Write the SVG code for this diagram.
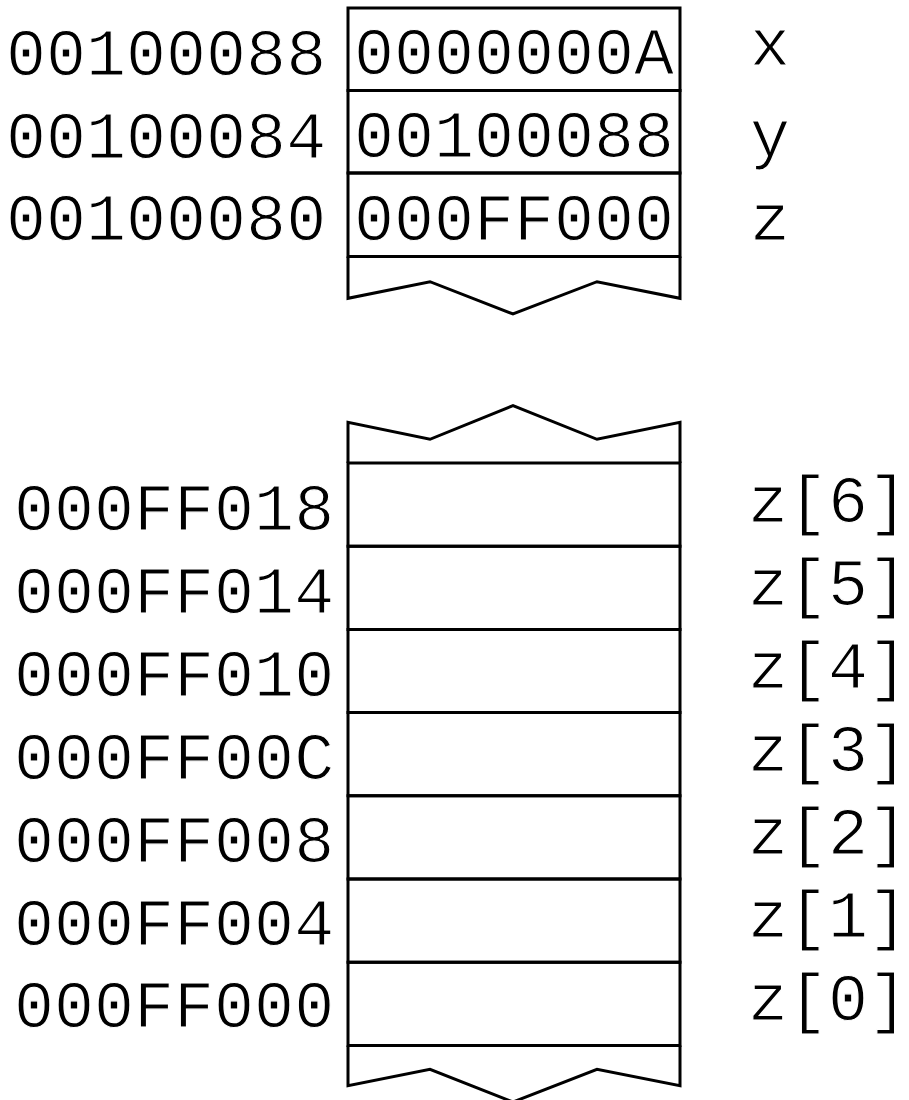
<svg xmlns="http://www.w3.org/2000/svg" width="909" height="1100" viewBox="0 0 909 1100">
<style>
.ln{fill:none;stroke:#000;stroke-width:3;stroke-linejoin:miter}
.t{font-family:"Liberation Mono","Courier New",monospace;font-size:66.7px;fill:#000;stroke:#fff;stroke-width:1.2px}
.m{text-anchor:middle}
</style>
<rect width="909" height="1100" fill="#fff"/>
<g id="top-stack">
<g id="cell-x">
<path class="ln" d="M348,8 H680 V90.5 H348 Z"/>
<text class="t m" x="514" y="74">0000000A</text>
<text class="t" x="6" y="75">00100088</text>
<text class="t" x="750" y="65">x</text>
</g>
<g id="cell-y">
<path class="ln" d="M348,90.5 H680 V173 H348 Z"/>
<text class="t m" x="514" y="157">00100088</text>
<text class="t" x="6" y="158">00100084</text>
<text class="t" x="750" y="156">y</text>
</g>
<g id="cell-z">
<path class="ln" d="M348,173 H680 V256.5 H348 Z"/>
<text class="t m" x="514" y="240">000FF000</text>
<text class="t" x="6" y="240">00100080</text>
<text class="t" x="750" y="240">z</text>
</g>
<g id="top-break">
<path class="ln" d="M348,256.5 V298.3 L430,281.7 L513,314 L597,281.7 L680,298.3 V256.5"/>
</g>
</g>
<g id="bottom-stack">
<g id="bottom-break-top">
<path class="ln" d="M348,463 V422.3 L430,439.3 L513,405.7 L597,439.3 L680,422.3 V463"/>
</g>
<g id="cell-z6">
<path class="ln" d="M348,463 H680 V546.2 H348 Z"/>
<text class="t" x="14" y="530">000FF018</text>
<text class="t" x="748" y="522">z[6]</text>
</g>
<g id="cell-z5">
<path class="ln" d="M348,546.2 H680 V629.4 H348 Z"/>
<text class="t" x="14" y="613">000FF014</text>
<text class="t" x="748" y="605">z[5]</text>
</g>
<g id="cell-z4">
<path class="ln" d="M348,629.4 H680 V712.6 H348 Z"/>
<text class="t" x="14" y="696">000FF010</text>
<text class="t" x="748" y="688">z[4]</text>
</g>
<g id="cell-z3">
<path class="ln" d="M348,712.6 H680 V795.8 H348 Z"/>
<text class="t" x="14" y="779">000FF00C</text>
<text class="t" x="748" y="771">z[3]</text>
</g>
<g id="cell-z2">
<path class="ln" d="M348,795.8 H680 V879 H348 Z"/>
<text class="t" x="14" y="862">000FF008</text>
<text class="t" x="748" y="854">z[2]</text>
</g>
<g id="cell-z1">
<path class="ln" d="M348,879 H680 V962.2 H348 Z"/>
<text class="t" x="14" y="945">000FF004</text>
<text class="t" x="748" y="937">z[1]</text>
</g>
<g id="cell-z0">
<path class="ln" d="M348,962.2 H680 V1045.4 H348 Z"/>
<text class="t" x="14" y="1027">000FF000</text>
<text class="t" x="748" y="1020">z[0]</text>
</g>
<g id="bottom-break">
<path class="ln" d="M348,1045.4 V1085.7 L430,1069.3 L513,1102 L597,1069.3 L680,1085.7 V1045.4"/>
</g>
</g>
<g id="connectors"/>
</svg>
